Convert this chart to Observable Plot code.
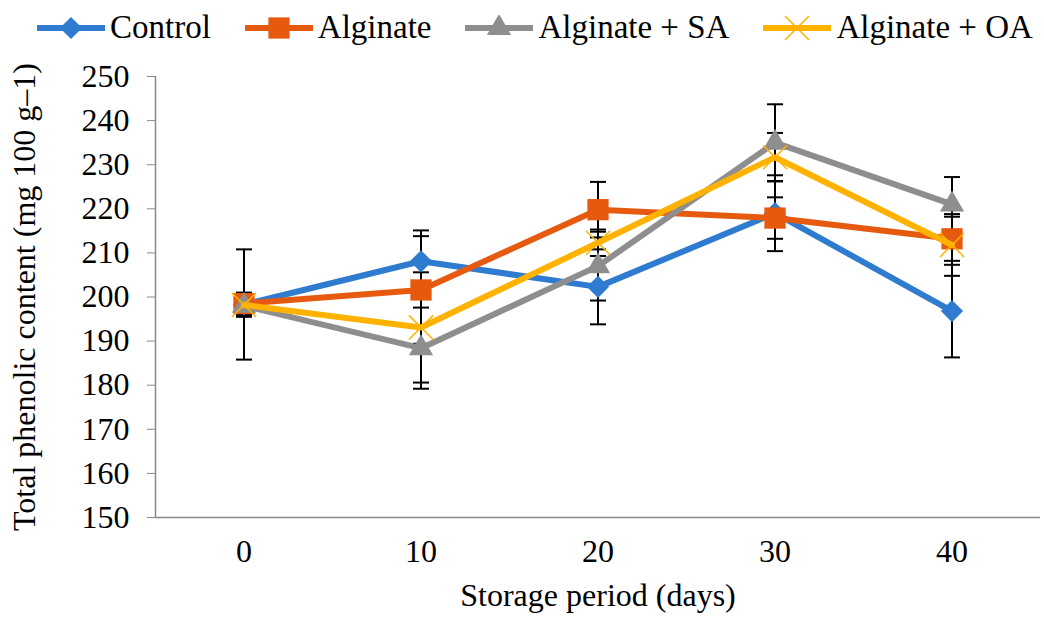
<!DOCTYPE html>
<html><head><meta charset="utf-8">
<script src="https://cdn.jsdelivr.net/npm/d3@7"></script>
<script src="https://cdn.jsdelivr.net/npm/@observablehq/plot@0.6"></script>
<style>
body{margin:0;background:#fff;}
#legend{height:55px;display:flex;align-items:center;padding-left:37px;font-family:"Liberation Serif";font-size:33px;color:#000;}
.item{display:flex;align-items:center;margin-right:34px;white-space:nowrap;}
.item svg{margin-right:5px}
#chart svg text{font-family:"Liberation Serif";}
</style></head><body>
<div id="legend"></div><div id="chart"></div>
<script>
const days = [0, 10, 20, 30, 40];
const seriesNames = ["Control", "Alginate", "Alginate + SA", "Alginate + OA"];
const control     = [198.3, 208.1, 202.3, 219.0, 196.8];
const controlErr  = [12.5, 7.0, 8.5, 8.6, 10.5];
const alginate    = [198.5, 201.6, 219.8, 217.9, 213.2];
const alginateErr = [2.5, 12.2, 6.3, 4.7, 5.0];
const sa          = [198.0, 188.4, 207.0, 235.0, 221.0];
const saErr       = [2.5, 9.2, 7.8, 8.7, 6.2];
const oa          = [198.2, 193.1, 212.3, 231.7, 211.8];
const oaErr       = [2.5, 12.5, 3.0, 5.5, 7.0];
const yTicks = [150, 160, 170, 180, 190, 200, 210, 220, 230, 240, 250];

const colors = ["#2E7BCF", "#E65A10", "#8E8E8E", "#FFB300"];
const styles = [
  {symbol: "diamond2", r: 10, fill: colors[0], stroke: "none", sw: 0},
  {symbol: "square", r: 12, fill: colors[1], stroke: "none", sw: 0},
  {symbol: "triangle", r: 9, fill: colors[2], stroke: "none", sw: 0},
  {symbol: "times", r: 11, fill: "none", stroke: colors[3], sw: 1.5}
];
const values = [control, alginate, sa, oa];
const errors = [controlErr, alginateErr, saErr, oaErr];

const rows = [];
seriesNames.forEach((name, i) => days.forEach((day, j) =>
  rows.push({series: name, idx: i, day, v: values[i][j], e: errors[i][j]})));

const cap = {draw(ctx, size) { const w = Math.sqrt(size) / 2; ctx.moveTo(-w, 0); ctx.lineTo(w, 0); }};

// legend
const legend = d3.select("#legend");
const symMap = {diamond2: d3.symbolDiamond2, square: d3.symbolSquare, triangle: d3.symbolTriangle, times: d3.symbolTimes};
seriesNames.forEach((name, i) => {
  const it = legend.append("div").attr("class", "item");
  const svg = it.append("svg").attr("width", 68).attr("height", 26);
  svg.append("line").attr("x1", 0).attr("x2", 68).attr("y1", 13).attr("y2", 13)
    .attr("stroke", colors[i]).attr("stroke-width", 6);
  const st = styles[i];
  svg.append("path").attr("transform", "translate(34,13)")
    .attr("d", d3.symbol(symMap[st.symbol], Math.PI * st.r * st.r)())
    .attr("fill", st.fill).attr("stroke", st.stroke).attr("stroke-width", st.sw);
  it.append("span").text(name);
});

const marks = [
  Plot.ruleX(rows, {x: "day", y1: d => d.v - d.e, y2: d => d.v + d.e, stroke: "black", strokeWidth: 2}),
  Plot.dot(rows, {x: "day", y: d => d.v + d.e, symbol: cap, r: 9, stroke: "black", strokeWidth: 2, fill: "none"}),
  Plot.dot(rows, {x: "day", y: d => d.v - d.e, symbol: cap, r: 9, stroke: "black", strokeWidth: 2, fill: "none"})
];
seriesNames.forEach((name, i) => {
  const data = rows.filter(d => d.idx === i);
  const st = styles[i];
  marks.push(Plot.line(data, {x: "day", y: "v", stroke: colors[i], strokeWidth: 6}));
  marks.push(Plot.dot(data, {x: "day", y: "v", symbol: st.symbol, r: st.r, fill: st.fill, stroke: st.stroke, strokeWidth: st.sw}));
});

const chart = Plot.plot({
  width: 1044, height: 567,
  marginLeft: 155, marginRight: 4, marginTop: 21, marginBottom: 105,
  style: {fontFamily: "Liberation Serif", color: "black", background: "white", overflow: "visible"},
  x: {domain: [-5, 45]},
  y: {domain: [150, 250]},
  marks: [
    Plot.axisY({ticks: yTicks, tickSize: 8, tickPadding: 18, fontSize: 32, fontFamily: "Liberation Serif", stroke: "#898989",
      label: "Total phenolic content (mg 100 g–1)", labelAnchor: "center", labelOffset: 143, labelArrow: "none"}),
    Plot.axisX({ticks: days, tickSize: 0, tickPadding: 22, fontSize: 32, fontFamily: "Liberation Serif",
      label: "Storage period (days)", labelAnchor: "center", labelOffset: 88, labelArrow: "none"}),
    Plot.ruleY([150], {stroke: "#898989", strokeWidth: 1.5}),
    Plot.ruleX([-5], {stroke: "#898989", strokeWidth: 1.5}),
    ...marks
  ]
});
document.getElementById("chart").appendChild(chart);
</script></body></html>
